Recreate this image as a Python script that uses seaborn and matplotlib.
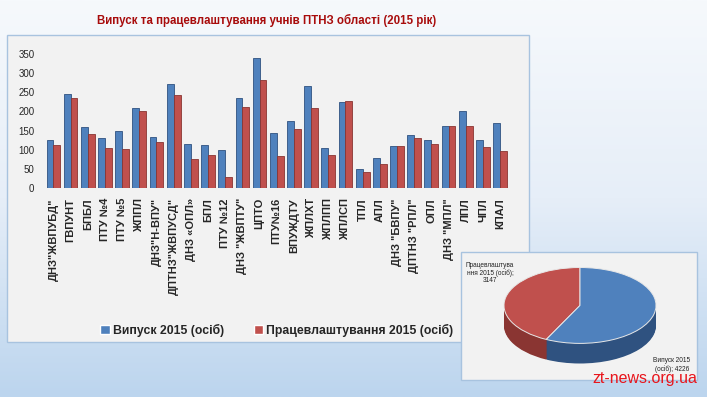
import numpy as np
import pandas as pd
import seaborn as sns
import matplotlib.pyplot as plt
from matplotlib.colors import LinearSegmentedColormap
from matplotlib.patches import Rectangle

# Data
schools = ['ДНЗ"ЖВПУБД"', 'ГВПУНТ', 'БПБЛ', 'ПТУ №4', 'ПТУ №5', 'ЖППЛ', 'ДНЗ"Н-ВПУ"',
           'ДПТНЗ"ЖВПУСД"', 'ДНЗ «ОПЛ»', 'БПЛ', 'ПТУ №12', 'ДНЗ "ЖВПТУ"', 'ЦПТО', 'ПТУ№16',
           'ВПУЖДТУ', 'ЖПЛХТ', 'ЖПЛПП', 'ЖПЛСП', 'ТПЛ', 'АПЛ', 'ДНЗ "БВПУ"', 'ДПТНЗ "РПЛ"',
           'ОПЛ', 'ДНЗ "МПЛ"', 'ЛПЛ', 'ЧПЛ', 'КПАЛ']
vypusk = [126, 245, 159, 132, 150, 210, 133, 271, 116, 113, 100, 234, 339, 145,
          175, 266, 105, 224, 49, 80, 111, 138, 125, 163, 200, 125, 169]
pratsevl = [113, 235, 140, 106, 103, 202, 120, 243, 76, 86, 29, 212, 281, 84,
            155, 208, 86, 226, 43, 63, 109, 131, 116, 163, 163, 108, 97]
series_names = ['Випуск 2015 (осіб)', 'Працевлаштування 2015 (осіб)']

# pie totals
pie_labels = ['Працевлаштування 2015 (осіб)', 'Випуск 2015 (осіб)']
pie_values = [3147, 4226]

title = 'Випуск та працевлаштування учнів ПТНЗ області (2015 рік)'
yticks = [0, 50, 100, 150, 200, 250, 300, 350]

blue, red = '#4f81bd', '#c0504d'
blue_dark, red_dark = '#2f5280', '#8a3532'

sns.set_style('white')
plt.rcParams['font.family'] = ['Liberation Sans', 'DejaVu Sans']

df = pd.DataFrame({
    'school': schools * 2,
    'series': [series_names[0]] * len(schools) + [series_names[1]] * len(schools),
    'value': vypusk + pratsevl,
})

W, H = 707, 397
fig = plt.figure(figsize=(W / 100, H / 100), dpi=100)

def fx(px):
    return px / W

def fy(py):
    return (H - py) / H

# slide background gradient
bg = fig.add_axes([0, 0, 1, 1], zorder=-3)
cmap = LinearSegmentedColormap.from_list('slide', ['#f6f9fc', '#e6eef8', '#bcd5ee'])
bg.imshow(np.linspace(0, 1, 200).reshape(-1, 1), aspect='auto', cmap=cmap, extent=[0, 1, 0, 1])
bg.axis('off')

# chart panels
fig.add_artist(Rectangle((fx(7), fy(342)), fx(529) - fx(7), fy(35) - fy(342),
                         transform=fig.transFigure, facecolor='#f2f2f2',
                         edgecolor='#a8c3df', linewidth=1, zorder=-2))

# bar chart
ax = fig.add_axes([fx(40), fy(188.3), fx(510.4) - fx(40), fy(49.8) - fy(188.3)])
ax.set_facecolor('none')
sns.barplot(data=df, x='school', y='value', hue='series', hue_order=series_names,
            palette=[blue, red], width=0.8, saturation=1, ax=ax, errorbar=None)
for i, cont in enumerate(ax.containers):
    for bar in cont:
        bar.set_edgecolor([blue_dark, red_dark][i])
        bar.set_linewidth(0.6)
ax.set_xlim(-0.78, 26.6)
ax.set_ylim(0, 360)
ax.set_yticks(yticks)
ax.set_yticklabels([str(v) for v in yticks], fontsize=7)
ax.tick_params(axis='y', length=0, pad=4)
ax.tick_params(axis='x', length=0, pad=7)
ax.set_xticks(range(len(schools)))
ax.set_xticklabels(schools, rotation=90, fontsize=8, fontweight='bold', va='top')
ax.set_xlabel('')
ax.set_ylabel('')
sns.despine(ax=ax, left=True, bottom=True)
sns.move_legend(ax, 'center', bbox_to_anchor=(fx(277), fy(330)),
                bbox_transform=fig.transFigure, ncol=2, frameon=False, title=None,
                handlelength=0.75, handleheight=0.75, handletextpad=0.3,
                columnspacing=2.4, prop={'weight': 'bold', 'size': 8.8})

# pie panel
fig.add_artist(Rectangle((fx(461), fy(380)), fx(697) - fx(461), fy(252) - fy(380),
                         transform=fig.transFigure, facecolor='#f2f2f2',
                         edgecolor='#a8c3df', linewidth=1, zorder=1))

# pseudo 3D pie: stacked darker layers then the top face
depth = 0.53
pax = fig.add_axes([fx(504), fy(363.5), fx(656) - fx(504), fy(267.5) - fy(363.5)], zorder=2)
n_layers = 24
for k in range(n_layers):
    off = -depth * (1 - k / n_layers)
    pax.pie(pie_values, colors=[red_dark, blue_dark], startangle=90, counterclock=True,
            center=(0, off), wedgeprops={'linewidth': 0})
pax.pie(pie_values, colors=[red, blue], startangle=90, counterclock=True,
        wedgeprops={'linewidth': 0.7, 'edgecolor': '#e8e8e8'})
pax.set_aspect('auto')
pax.set_xlim(-1, 1)
pax.set_ylim(-1 - depth, 1)
pax.axis('off')

fig.text(fx(490), fy(273), f'Працевлаштува\nння 2015 (осіб);\n{pie_values[0]}',
         ha='center', va='center', fontsize=4.7, color='#222222', zorder=3, linespacing=1.1)
fig.text(fx(672), fy(365), f'Випуск 2015\n(осіб); {pie_values[1]}',
         ha='center', va='center', fontsize=4.7, color='#222222', zorder=3, linespacing=1.1)

# title and watermark
fig.text(fx(267), fy(20), title, ha='center', va='center', fontsize=8.3,
         fontweight='bold', color='#a80c0c')
fig.text(fx(697), fy(378), 'zt-news.org.ua', ha='right', va='center', fontsize=11.5,
         color='#e8151c', zorder=4)

plt.savefig('out.png', dpi=100)
